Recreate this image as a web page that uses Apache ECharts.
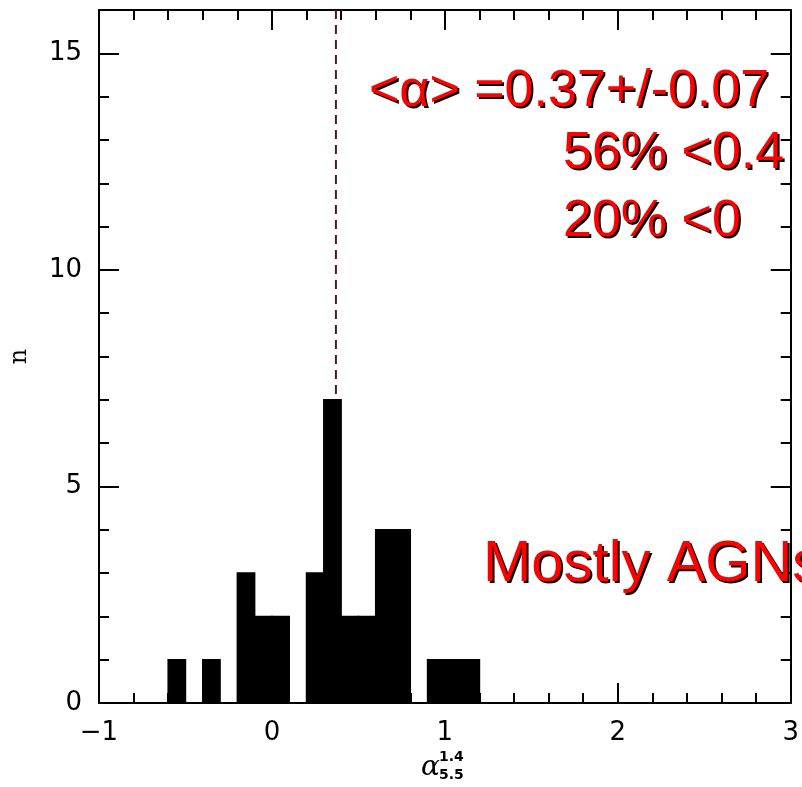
<!DOCTYPE html>
<html>
<head>
<meta charset="utf-8">
<script src="https://cdn.jsdelivr.net/npm/echarts@6/dist/echarts.min.js"></script>
<style>
  html, body {margin: 0; padding: 0; background: #fff;}
  #chart {width: 802px; height: 787px;}
</style>
</head>
<body>
<div id="chart"></div>
<script>
// histogram bins (width 0.1), left edges and counts
var binWidth = 0.1;
var binStarts = [-0.6, -0.4, -0.2, -0.1, 0.0, 0.2, 0.3, 0.4, 0.5, 0.6, 0.7, 0.9, 1.0, 1.1];
var counts    = [1, 1, 3, 2, 2, 3, 7, 2, 2, 4, 4, 1, 1, 1];
var meanAlpha = 0.37;
var meanLineFrom = 7;
var xTicks = [-1, 0, 1, 2, 3];
var notes = ['<α> =0.37+/-0.07', '56% <0.4', '20% <0', 'Mostly AGNs'];

var chart = echarts.init(document.getElementById('chart'));

var histData = binStarts.map(function (s, i) { return [s, counts[i]]; });
var tickFont = {color: '#000', fontSize: 26, fontFamily: 'DejaVu Sans'};
var line2 = {color: '#000', width: 2};

function xAx(pos, showLabel) {
  return {
    type: 'value', position: pos, min: xTicks[0], max: xTicks[xTicks.length - 1], interval: 1,
    axisLine: {show: true, onZero: false, lineStyle: line2},
    axisTick: {show: true, inside: true, length: 20, lineStyle: line2},
    minorTick: {show: true, splitNumber: 5, length: 10, lineStyle: line2},
    splitLine: {show: false},
    axisLabel: {
      show: showLabel, margin: 17, ...tickFont,
      formatter: function (v) { return v < 0 ? '\u2212' + Math.abs(v) : String(v); }
    }
  };
}
function yAx(pos, step, len, showLabel) {
  return {
    type: 'value', position: pos, min: 0, max: 16, interval: step,
    axisLine: {show: step === 5, onZero: false, lineStyle: line2},
    axisTick: {show: true, inside: true, length: len, lineStyle: line2},
    splitLine: {show: false},
    axisLabel: {
      show: showLabel, margin: 17, ...tickFont,
      formatter: function (v) { return v === 16 ? '' : String(v); }
    }
  };
}

function shadowText(x, y, txt, size) {
  var font = size + 'px "Liberation Sans", Arial, sans-serif';
  return [
    {type: 'text', x: x + 2, y: y + 2, z: 50, style: {text: txt, fill: '#000', font: font, verticalAlign: 'middle'}},
    {type: 'text', x: x, y: y, z: 51, style: {text: txt, fill: '#ff0000', font: font, verticalAlign: 'middle'}}
  ];
}

var yName = yAx('left', 5, 20, true);
yName.name = 'n';
yName.nameLocation = 'middle';
yName.nameGap = 67;
yName.nameRotate = 90;
yName.nameTextStyle = {color: '#000', fontSize: 24, fontFamily: 'DejaVu Serif'};

chart.setOption({
  animation: false,
  backgroundColor: '#fff',
  grid: {left: 98, right: 10, top: 10, bottom: 84, containLabel: false},
  xAxis: [xAx('bottom', true), xAx('top', false)],
  yAxis: [yName, yAx('left', 1, 10, false), yAx('right', 5, 20, false), yAx('right', 1, 10, false)],
  graphic: [].concat(
    shadowText(369, 92, notes[0], 52),
    shadowText(563, 154, notes[1], 52),
    shadowText(563, 222, notes[2], 52),
    shadowText(483, 565, notes[3], 58),
    [
      {type: 'text', x: 421, y: 768, style: {text: 'α', fill: '#000', font: 'italic 28px "DejaVu Serif"', verticalAlign: 'middle'}},
      {type: 'text', x: 439, y: 757, style: {text: '1.4', fill: '#000', font: 'bold 14px "DejaVu Sans"', verticalAlign: 'middle'}},
      {type: 'text', x: 439, y: 775, style: {text: '5.5', fill: '#000', font: 'bold 14px "DejaVu Sans"', verticalAlign: 'middle'}}
    ]
  ),
  series: [
    {
      type: 'custom',
      xAxisIndex: 0, yAxisIndex: 0,
      data: histData,
      renderItem: function (params, api) {
        var x0 = api.value(0), n = api.value(1);
        var p0 = api.coord([x0, 0]);
        var p1 = api.coord([x0 + binWidth, n]);
        return {
          type: 'rect',
          shape: {x: p0[0], y: p1[1], width: p1[0] - p0[0], height: p0[1] - p1[1]},
          style: {fill: '#000', stroke: '#000', lineWidth: 1.5}
        };
      }
    },
    {
      type: 'line',
      xAxisIndex: 0, yAxisIndex: 0,
      data: [[meanAlpha, 16], [meanAlpha, meanLineFrom]],
      symbol: 'none',
      lineStyle: {color: '#4a1c1c', width: 2, type: [9, 6]},
      z: 3
    }
  ]
});
</script>
</body>
</html>
